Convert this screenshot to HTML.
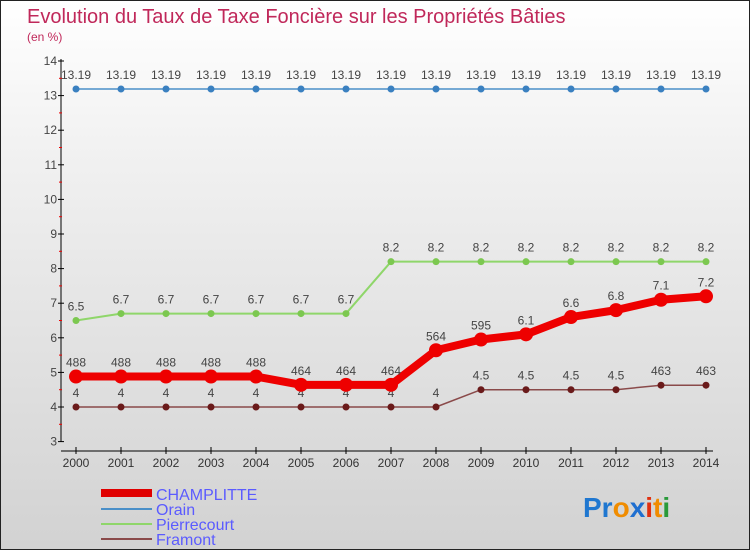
<!DOCTYPE html>
<html><head><meta charset="utf-8"><style>
body{margin:0}
#c{width:750px;height:550px;position:relative;box-sizing:border-box;border:1px solid #222;background:linear-gradient(#ffffff,#f0f0f0 30%,#d2d2d2);overflow:hidden;font-family:"Liberation Sans",sans-serif}
</style></head><body>
<div id="c">
<svg id="s" width="750" height="550" style="position:absolute;left:0;top:0">
<text x="26" y="22" font-size="20" fill="#c0285a">Evolution du Taux de Taxe Foncière sur les Propriétés Bâties</text>
<text x="26" y="40" font-size="12" fill="#c0285a">(en %)</text>
<g id="axes"></g><g id="series"></g>
<g font-size="16" fill="#5b5bff">
<rect x="100" y="488" width="51" height="8" fill="#e00000"/>
<text x="155" y="499">CHAMPLITTE</text>
<rect x="100" y="507" width="51" height="2" fill="#4a8fc8"/>
<text x="155" y="514">Orain</text>
<rect x="100" y="522" width="51" height="2" fill="#8fd66a"/>
<text x="155" y="529">Pierrecourt</text>
<rect x="100" y="537" width="51" height="2" fill="#8a4a4a"/>
<text x="155" y="544">Framont</text>
</g>
<g font-size="28" font-weight="bold">
<text x="582" y="516"><tspan fill="#1f77d0">Pr</tspan><tspan fill="#f08c00">o</tspan><tspan fill="#1f6fd0">x</tspan><tspan fill="#e03010">i</tspan><tspan fill="#f08c00">t</tspan><tspan fill="#2a9a3a">i</tspan></text>
</g>
</svg>
</div>
<script>
const years=[2000,2001,2002,2003,2004,2005,2006,2007,2008,2009,2010,2011,2012,2013,2014];
const champlitte=[4.88,4.88,4.88,4.88,4.88,4.64,4.64,4.64,5.64,5.95,6.1,6.6,6.8,7.1,7.2];
const champlitteLabels=["488","488","488","488","488","464","464","464","564","595","6.1","6.6","6.8","7.1","7.2"];
const orain=[13.19,13.19,13.19,13.19,13.19,13.19,13.19,13.19,13.19,13.19,13.19,13.19,13.19,13.19,13.19];
const orainLabels=["13.19","13.19","13.19","13.19","13.19","13.19","13.19","13.19","13.19","13.19","13.19","13.19","13.19","13.19","13.19"];
const pierrecourt=[6.5,6.7,6.7,6.7,6.7,6.7,6.7,8.2,8.2,8.2,8.2,8.2,8.2,8.2,8.2];
const pierrecourtLabels=["6.5","6.7","6.7","6.7","6.7","6.7","6.7","8.2","8.2","8.2","8.2","8.2","8.2","8.2","8.2"];
const framont=[4,4,4,4,4,4,4,4,4,4.5,4.5,4.5,4.5,4.63,4.63];
const framontLabels=["4","4","4","4","4","4","4","4","4","4.5","4.5","4.5","4.5","463","463"];
const yTicks=[3,4,5,6,7,8,9,10,11,12,13,14];
const NS="http://www.w3.org/2000/svg";
const xs=i=>75+i*45;
const ys=v=>440.6-34.6*(v-3);
function mk(t,a,p){const e=document.createElementNS(NS,t);for(const k in a)e.setAttribute(k,a[k]);p.appendChild(e);return e;}
const ax=document.getElementById('axes');
const yl=mk('line',{x1:60,y1:58,x2:60,y2:441,stroke:'#000'},ax);


const xl=mk('line',{x1:60,y1:450,x2:712,y2:450,stroke:'#000'},ax);


yTicks.forEach(v=>{
 mk('line',{x1:57,x2:63,y1:ys(v),y2:ys(v),stroke:'#000'},ax);
 if(v<14) mk('line',{x1:58,x2:61,y1:ys(v+0.5),y2:ys(v+0.5),stroke:'#e00'},ax);
 const t=mk('text',{x:56,y:ys(v)+4,'font-size':12,'text-anchor':'end',fill:'#444'},ax);t.textContent=v;
 
 
});
years.forEach((y,i)=>{
 mk('line',{x1:xs(i),x2:xs(i),y1:446,y2:453,stroke:'#000'},ax);
 const t=mk('text',{x:xs(i),y:466,'font-size':12,'text-anchor':'middle',fill:'#333'},ax);t.textContent=y;
 
 
});
const sg=document.getElementById('series');
function series(name,vals,labels,color,w,r,dot){
 const g=mk('g',{},sg);
 
 
 const p=mk('polyline',{points:vals.map((v,i)=>xs(i)+','+ys(v)).join(' '),fill:'none',stroke:color,'stroke-width':w,'stroke-linejoin':'round'},g);
 
 
 vals.forEach((v,i)=>{
  const c=mk('circle',{cx:xs(i),cy:ys(v),r:r,fill:dot},g);
  
  
  const t=mk('text',{x:xs(i),y:ys(v)-10,'font-size':12,'text-anchor':'middle',fill:'#444'},g);t.textContent=labels[i];
  
  
 });
}
series('orain',orain,orainLabels,'#4a8fc8',1.5,3.5,'#3a80c0');
series('pierrecourt',pierrecourt,pierrecourtLabels,'#8fd66a',2,3.5,'#7cc850');
series('framont',framont,framontLabels,'#8a4a4a',1.5,3.5,'#6a1a1a');
series('champlitte',champlitte,champlitteLabels,'#ee0000',8,7,'#ee0000');
</script>
</body></html>
